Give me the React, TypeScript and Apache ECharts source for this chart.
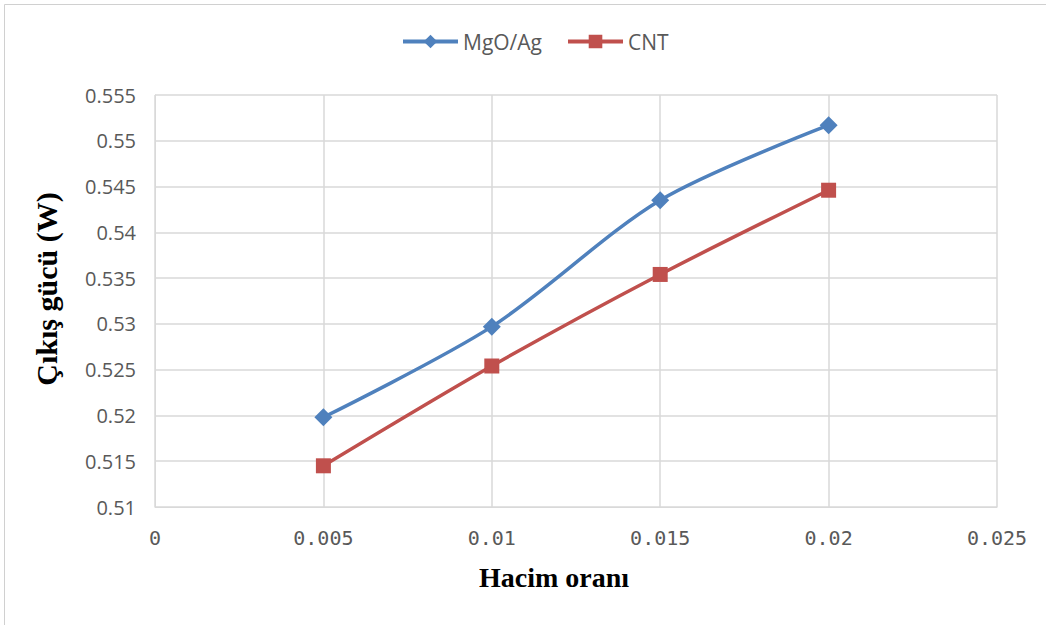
import React, { useEffect, useRef } from "react";
import * as echarts from "echarts";

// Volume fraction (x) and output power (W) for each nanofluid
const hacimOrani = [0.005, 0.01, 0.015, 0.02];
const mgoAg = [0.5198, 0.5297, 0.5435, 0.5517];
const cnt = [0.5145, 0.5254, 0.5354, 0.5446];
const seriesNames = ["MgO/Ag", "CNT"];

export default function App() {
  const ref = useRef<HTMLDivElement>(null);

  useEffect(() => {
    if (!ref.current) return;
    const chart = echarts.init(ref.current, null, { renderer: "svg" });
    const labelFont = "'Open Sans', 'Noto Sans', sans-serif";
    const titleFont = "'Liberation Serif', 'Times New Roman', serif";
    const fmt = (v: number) => String(Number(v.toFixed(3)));
    chart.setOption({
      animation: false,
      backgroundColor: "#ffffff",
      graphic: [
        {
          type: "rect",
          shape: { x: 4.5, y: 4.5, width: 1060, height: 640 },
          style: { fill: "none", stroke: "#d0d0d0", lineWidth: 1 },
          silent: true,
        },
      ],
      legend: {
        top: 26,
        left: 396,
        itemWidth: 55,
        itemHeight: 17,
        itemGap: 24,
        lineStyle: { width: 4 },
        textStyle: { fontFamily: labelFont, fontSize: 21, color: "#595959" },
        data: seriesNames,
      },
      grid: { left: 155, right: 49, top: 95, bottom: 118 },
      xAxis: {
        type: "value",
        min: 0,
        max: 0.025,
        interval: 0.005,
        name: "Hacim oranı",
        nameLocation: "middle",
        nameGap: 56,
        nameTextStyle: {
          fontFamily: titleFont,
          fontWeight: "bold",
          fontSize: 28,
          color: "#000000",
          padding: [0, 44, 0, 0],
        },
        axisLine: { show: true, lineStyle: { color: "#d9d9d9" } },
        axisTick: { show: false },
        axisLabel: {
          margin: 21,
          fontFamily: "'DejaVu Sans Mono', monospace",
          fontSize: 20,
          color: "#595959",
          formatter: fmt,
        },
        splitLine: { show: true, lineStyle: { color: "#d9d9d9", width: 1.5 } },
      },
      yAxis: {
        type: "value",
        min: 0.51,
        max: 0.555,
        interval: 0.005,
        name: "Çıkış gücü (W)",
        nameLocation: "middle",
        nameGap: 94,
        nameTextStyle: {
          fontFamily: titleFont,
          fontWeight: "bold",
          fontSize: 30,
          color: "#000000",
          padding: [0, 0, 0, 24],
        },
        axisLine: { show: true, lineStyle: { color: "#d9d9d9" } },
        axisTick: { show: false },
        axisLabel: {
          margin: 19,
          fontFamily: labelFont,
          fontSize: 20,
          color: "#595959",
          formatter: fmt,
        },
        splitLine: { show: true, lineStyle: { color: "#d9d9d9", width: 1.5 } },
      },
      series: [
        {
          name: seriesNames[0],
          type: "line",
          smooth: 0.3,
          data: hacimOrani.map((x, i) => [x, mgoAg[i]]),
          symbol: "diamond",
          symbolSize: 18,
          lineStyle: { color: "#4f81bd", width: 3.5 },
          itemStyle: { color: "#4f81bd" },
        },
        {
          name: seriesNames[1],
          type: "line",
          smooth: 0.3,
          data: hacimOrani.map((x, i) => [x, cnt[i]]),
          symbol: "rect",
          symbolSize: 15,
          lineStyle: { color: "#c0504d", width: 3.5 },
          itemStyle: { color: "#c0504d" },
        },
      ],
    });
    return () => chart.dispose();
  }, []);

  return (
    <div
      ref={ref}
      style={{ position: "fixed", left: 0, top: 0, width: 1046, height: 625 }}
    />
  );
}
